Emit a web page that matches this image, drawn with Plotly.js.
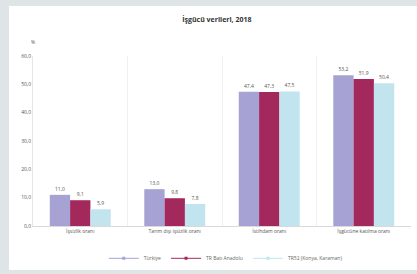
<!DOCTYPE html>
<html>
<head>
<meta charset="utf-8">
<script src="https://cdn.plot.ly/plotly-3.0.1.min.js"></script>
<style>html,body{margin:0;padding:0;background:#dfe5e6;}#chart{width:417px;height:274px;}</style>
</head>
<body>
<div id="chart"></div>
<script>
const categories = ["İşsizlik oranı", "Tarım dışı işsizlik oranı", "İstihdam oranı", "İşgücüne katılma oranı"];
const seriesNames = ["Türkiye", "TR Batı Anadolu", "TR52 (Konya, Karaman)"];
const turkiye = [11.0, 13.0, 47.4, 53.2];
const bolge = [9.1, 9.8, 47.3, 51.9];
const altBolge = [5.9, 7.8, 47.5, 50.4];
const yTicks = [0, 10, 20, 30, 40, 50, 60];
const colors = ["#a6a3d4", "#a3285c", "#c2e4ee"];

const values = [turkiye, bolge, altBolge];
const traces = values.map((v, i) => ({
  type: "bar",
  name: seriesNames[i],
  x: categories,
  y: v,
  marker: {color: colors[i]},
  texttemplate: "%{y:.1f}",
  textposition: "outside",
  cliponaxis: false,
  textfont: {size: 5, color: "#555", family: "Open Sans, sans-serif"},
  hoverinfo: "none",
  showlegend: false
}));
// legend entries (no data points, only legend keys)
seriesNames.forEach((n, i) => traces.push({
  type: "scatter", mode: "lines+markers", name: n,
  x: [null], y: [null],
  line: {color: colors[i], width: 1},
  marker: {symbol: "square", size: 3, color: colors[i]},
  showlegend: true, hoverinfo: "none"
}));

const layout = {
  width: 417, height: 274,
  margin: {l: 33, r: 6, t: 56, b: 48, autoexpand: false},
  paper_bgcolor: "#dfe5e6",
  plot_bgcolor: "rgba(0,0,0,0)",
  separators: ",.",
  font: {family: "Open Sans, sans-serif", size: 5, color: "#555"},
  title: {text: "<b>İşgücü verileri, 2018</b>", x: 0.52, xanchor: "center", y: 0.93, yanchor: "middle",
          font: {size: 7, color: "#333", family: "Open Sans, sans-serif"}},
  barmode: "group",
  bargap: 0.355,
  bargroupgap: 0,
  showlegend: true,
  legend: {orientation: "h", x: 0.51, xanchor: "center", y: -0.19, yanchor: "middle",
           bgcolor: "rgba(0,0,0,0)", font: {size: 5, color: "#666"},
           itemwidth: 30, tracegroupgap: 0, traceorder: "normal"},
  xaxis: {
    type: "category",
    tickson: "boundaries",
    showgrid: true, gridcolor: "#f0f0f0", gridwidth: 1,
    showline: true, linecolor: "#d9d9d9",
    ticks: "", tickfont: {size: 5, color: "#555"},
    fixedrange: true, automargin: false
  },
  yaxis: {
    range: [0, 60],
    tickvals: yTicks,
    tickformat: ".1f",
    showgrid: false,
    zeroline: false,
    showline: true, linecolor: "#e6e6e6",
    ticks: "", tickfont: {size: 5, color: "#555"},
    fixedrange: true, automargin: false
  },
  annotations: [{text: "%", xref: "paper", yref: "paper", x: 0, y: 1.08, xanchor: "center", yanchor: "middle",
                 showarrow: false, font: {size: 5, color: "#555"}}],
  shapes: [{type: "rect", xref: "paper", yref: "paper", x0: -0.0635, x1: 1.02, y0: -0.259, y1: 1.294,
            fillcolor: "#ffffff", line: {width: 0}, layer: "below"}]
};

Plotly.newPlot("chart", traces, layout, {displayModeBar: false, staticPlot: true});
</script>
</body>
</html>
